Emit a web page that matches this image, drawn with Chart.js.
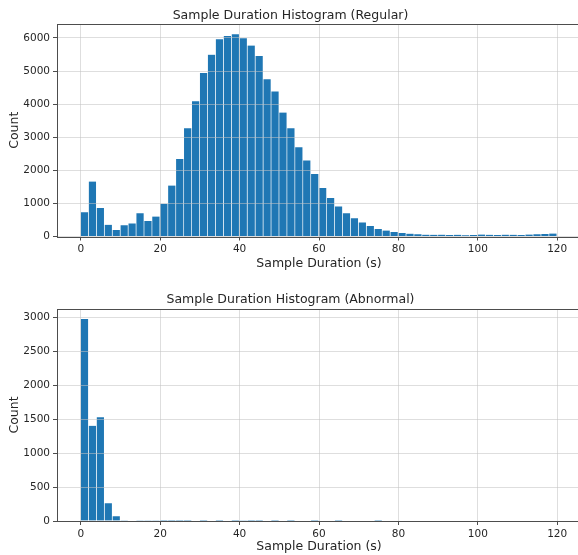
<!DOCTYPE html>
<html>
<head>
<meta charset="utf-8">
<script src="https://cdn.jsdelivr.net/npm/chart.js@4/dist/chart.umd.min.js"></script>
<style>
  html, body { margin: 0; padding: 0; background: #fff; overflow: hidden; }
  #wrap { width: 578px; height: 555px; overflow: hidden; position: relative; }
  canvas { display: block; }
</style>
</head>
<body>
<div id="wrap">
  <canvas id="top" width="586" height="278"></canvas>
  <canvas id="bot" width="586" height="277"></canvas>
</div>
<script>
// ---- data (bins of 2 s, centres) ----
const binCenters = [1,3,5,7,9,11,13,15,17,19,21,23,25,27,29,31,33,35,37,39,
  41,43,45,47,49,51,53,55,57,59,61,63,65,67,69,71,73,75,77,79,
  81,83,85,87,89,91,93,95,97,99,101,103,105,107,109,111,113,115,117,119];

const regularCounts = [730,1660,860,355,200,340,395,705,465,605,
  990,1540,2345,3270,4085,4940,5495,5960,6060,6115,
  5990,5770,5455,4750,4385,3745,3270,2700,2300,1890,
  1465,1160,910,705,555,425,320,225,180,135,
  105,85,65,55,50,55,45,50,40,45,
  60,50,45,55,50,45,60,70,75,90];

const abnormalCounts = [2970,1400,1525,260,69,12,6,3,2,2,
  1,1,1,1,0,1,0,1,0,1,
  3,1,1,0,1,0,1,0,0,1,
  0,0,1,0,0,0,0,1,0,0,
  0,0,0,0,0,0,0,0,0,0,
  0,0,0,0,0,0,0,0,0,0];

const xTicks = [0,20,40,60,80,100,120];
const yTicksRegular = [0,1000,2000,3000,4000,5000,6000];
const yTicksAbnormal = [0,500,1000,1500,2000,2500,3000];

const titles = ['Sample Duration Histogram (Regular)', 'Sample Duration Histogram (Abnormal)'];
const xLabel = 'Sample Duration (s)';
const yLabel = 'Count';

// ---- styling ----
const FONT = 'DejaVu Sans';
const TEXT = '#262626';
const SPINE = '#4d4d4d';
const GRID = 'rgba(195,195,195,0.55)';
const BAR = '#1f77b4';

const framePlugin = {
  id: 'frame',
  afterDraw(chart) {
    const {ctx, chartArea: a} = chart;
    ctx.save();
    ctx.strokeStyle = SPINE;
    ctx.lineWidth = 1;
    ctx.strokeRect(Math.round(a.left) + 0.5, Math.round(a.top) + 0.5,
      Math.round(a.right - a.left), Math.round(a.bottom - a.top));
    ctx.restore();
  }
};

function makeChart(id, counts, yTicks, yMax, title, titlePad, bottomPad, xTitlePad) {
  const pts = binCenters.map((c, i) => ({x: c, y: counts[i]}));
  return new Chart(document.getElementById(id), {
    type: 'bar',
    data: {
      datasets: [{
        data: pts,
        backgroundColor: BAR,
        borderColor: 'rgba(255,255,255,0.14)',
        borderWidth: {left: 0, right: 1, top: 0, bottom: 0},
        borderSkipped: false,
        barPercentage: 1,
        categoryPercentage: 1
      }]
    },
    options: {
      responsive: false,
      devicePixelRatio: 1,
      animation: false,
      layout: { padding: {left: 0, right: 5, top: 0, bottom: bottomPad} },
      plugins: {
        legend: { display: false },
        tooltip: { enabled: false },
        title: {
          display: true,
          text: title,
          color: TEXT,
          font: { family: FONT, size: 12.5, weight: 'normal' },
          padding: titlePad
        }
      },
      scales: {
        x: {
          type: 'linear',
          min: -6, max: 126,
          offset: false,
          afterBuildTicks: s => { s.ticks = xTicks.map(v => ({value: v})); },
          afterFit: s => { s.height = 33; },
          grid: { display: true, offset: false, color: GRID, z: 1, drawTicks: true,
                  tickLength: 4, tickColor: SPINE, lineWidth: 1 },
          border: { display: false },
          ticks: { color: TEXT, font: { family: FONT, size: 10.5 }, padding: 2.5,
                   maxRotation: 0, autoSkip: false, callback: v => String(v) },
          title: { display: true, text: xLabel, color: TEXT,
                   font: { family: FONT, size: 12.5 }, padding: {top: 0, bottom: xTitlePad} }
        },
        y: {
          type: 'linear',
          min: 0, max: yMax,
          afterBuildTicks: s => { s.ticks = yTicks.map(v => ({value: v})); },
          afterFit: s => { s.width = 57; },
          grid: { display: true, color: GRID, z: 1, drawTicks: true,
                  tickLength: 4, tickColor: SPINE, lineWidth: 1 },
          border: { display: false },
          ticks: { color: TEXT, font: { family: FONT, size: 10.5 }, padding: 3,
                   callback: v => String(v) },
          title: { display: true, text: yLabel, color: TEXT,
                   font: { family: FONT, size: 12.5 }, padding: {top: 7.5, bottom: 0} }
        }
      }
    },
    plugins: [framePlugin]
  });
}

makeChart('top', regularCounts, yTicksRegular, 6423, titles[0], {top: 8.5, bottom: 0.5}, 8.5, -1.5);
makeChart('bot', abnormalCounts, yTicksAbnormal, 3118, titles[1], {top: 14.5, bottom: 1.5}, 1, 0);
</script>
</body>
</html>
